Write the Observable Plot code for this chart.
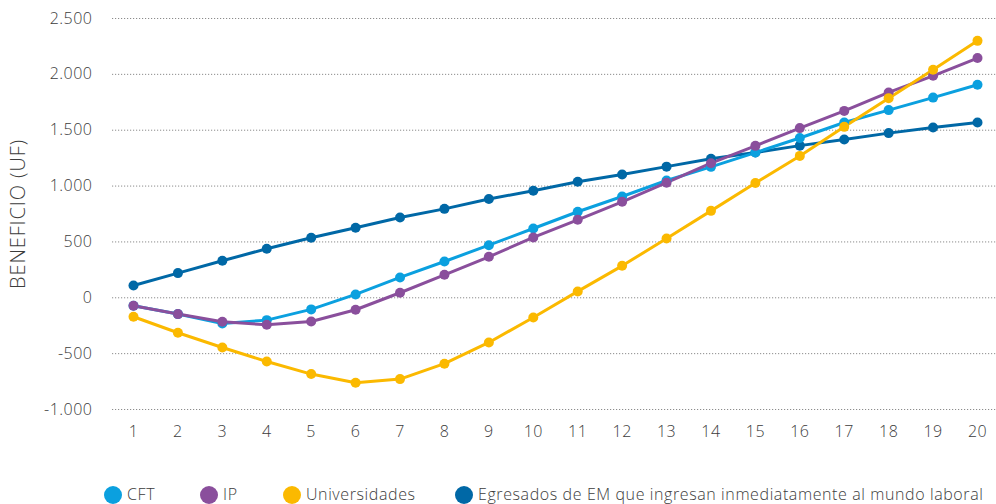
<!DOCTYPE html>
<html>
<head>
<meta charset="utf-8">
<script src="https://cdn.jsdelivr.net/npm/d3@7"></script>
<script src="https://cdn.jsdelivr.net/npm/@observablehq/plot@0.6"></script>
<style>
  html, body { margin: 0; padding: 0; background: #fff; overflow: hidden; }
  #wrap { position: relative; width: 996px; height: 504px; font-family: "Open Sans", sans-serif; color: #3c3c3c; }
  #legend { position: absolute; top: 485px; left: 0; width: 996px; height: 19px; }
  .item { position: absolute; top: 0; height: 19px; line-height: 19px; display: flex; align-items: center; font-size: 16px; letter-spacing: 0.6px; font-weight: 300; white-space: nowrap; }
  .sw { width: 18px; height: 18px; border-radius: 50%; margin-right: 5px; flex: none; }
  svg g[aria-label="y-axis label"] text { font-size: 20px; letter-spacing: 0.9px; font-weight: 300; }
  svg g[aria-label="y-axis tick label"] text, svg g[aria-label="x-axis tick label"] text { letter-spacing: 0.5px; font-weight: 300; }
</style>
</head>
<body>
<div id="wrap">
  <div id="chart"></div>
  <div id="legend"></div>
</div>
<script>
const years = [1,2,3,4,5,6,7,8,9,10,11,12,13,14,15,16,17,18,19,20];
const seriesNames = ["CFT", "IP", "Universidades", "Egresados de EM que ingresan inmediatamente al mundo laboral"];
const seriesColors = ["#0ba0df", "#8a4f9c", "#fbb900", "#0068a6"];
const cft = [-72, -146, -230, -200, -104, 30, 182, 325, 471, 620, 770, 907, 1050, 1172, 1300, 1430, 1569, 1680, 1792, 1907];
const ip = [-72, -146, -215, -242, -212, -107, 45, 206, 367, 540, 698, 859, 1030, 1205, 1360, 1519, 1673, 1838, 1987, 2146];
const univ = [-170, -313, -445, -570, -683, -761, -728, -590, -400, -176, 57, 286, 531, 778, 1027, 1270, 1530, 1787, 2041, 2300];
const egresados = [110, 221, 331, 439, 537, 627, 719, 796, 884, 958, 1038, 1104, 1174, 1245, 1300, 1362, 1417, 1474, 1524, 1569];
const yTicks = [-1000, -500, 0, 500, 1000, 1500, 2000, 2500];
const legendX = [104, 200, 283, 455];

const seriesValues = [cft, ip, univ, egresados];
// drawing order: Egresados first, then CFT, IP, Universidades on top
const drawOrder = [3, 0, 1, 2];
const data = [];
for (const s of drawOrder) {
  years.forEach((yr, i) => data.push({series: seriesNames[s], year: yr, value: seriesValues[s][i]}));
}

const fmt = d3.formatLocale({decimal: ",", thousands: ".", grouping: [3], currency: ["$", ""], minus: "-"}).format(",d");

const chart = Plot.plot({
  width: 996,
  height: 450,
  marginLeft: 112,
  marginRight: 0,
  marginTop: 18,
  marginBottom: 41,
  style: {fontFamily: "'Open Sans', sans-serif", fontSize: "16px", color: "#3c3c3c", background: "#fff"},
  x: {domain: [1, 20], insetLeft: 21, insetRight: 19},
  y: {domain: [-1000, 2500]},
  color: {domain: seriesNames, range: seriesColors},
  marks: [
    Plot.ruleY(yTicks, {stroke: "#8c8c8c", strokeWidth: 1, strokeDasharray: "1.2,1.8"}),
    Plot.axisY({ticks: yTicks, tickFormat: fmt, tickSize: 0, tickPadding: 20, label: "BENEFICIO (UF)", labelAnchor: "center", labelArrow: "none", labelOffset: 102, fill: "#3c3c3c", fontSize: "16px"}),
    Plot.axisX({ticks: years, tickFormat: d => String(d), tickSize: 0, tickPadding: 16, label: null, fill: "#3c3c3c", fontSize: "16px"}),
    Plot.line(data, {x: "year", y: "value", z: "series", stroke: "series", strokeWidth: 3}),
    Plot.dot(data, {x: "year", y: "value", fill: "series", r: 5})
  ]
});
document.getElementById("chart").appendChild(chart);

const legend = document.getElementById("legend");
seriesNames.forEach((name, i) => {
  const it = document.createElement("div");
  it.className = "item";
  it.style.left = legendX[i] + "px";
  const sw = document.createElement("span");
  sw.className = "sw";
  sw.style.background = seriesColors[i];
  const tx = document.createElement("span");
  tx.textContent = name;
  it.appendChild(sw);
  it.appendChild(tx);
  legend.appendChild(it);
});
</script>
</body>
</html>
